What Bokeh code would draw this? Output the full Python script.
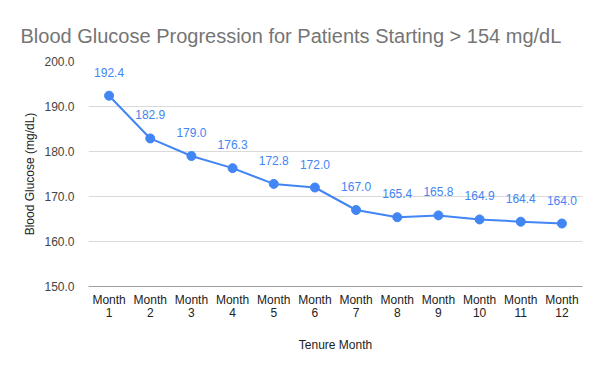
from bokeh.plotting import figure
from bokeh.models import (ColumnDataSource, FactorRange, Range1d, CategoricalAxis,
                          NumeralTickFormatter, FixedTicker, CustomJSTickFormatter)
from bokeh.embed import file_html
from bokeh.resources import INLINE
from bokeh.core.properties import value

months = ["Month 1", "Month 2", "Month 3", "Month 4", "Month 5", "Month 6",
          "Month 7", "Month 8", "Month 9", "Month 10", "Month 11", "Month 12"]
glucose = [192.4, 182.9, 179.0, 176.3, 172.8, 172.0, 167.0, 165.4, 165.8, 164.9, 164.4, 164.0]
labels = ["%.1f" % v for v in glucose]
y_ticks = [150, 160, 170, 180, 190, 200]

BLUE = "#4285F4"
FONT = "Liberation Sans"

src = ColumnDataSource(dict(x=months, y=glucose, lab=labels))

p = figure(width=600, height=371, x_range=FactorRange(*months), y_range=Range1d(150, 200),
           output_backend="svg", toolbar_location=None,
           min_border_left=88, min_border_right=18, min_border_top=61, min_border_bottom=85)
p.outline_line_color = None

p.line("x", "y", source=src, line_color=BLUE, line_width=2)
p.scatter("x", "y", source=src, size=9, fill_color=BLUE, line_color=BLUE)
p.text("x", "y", text="lab", source=src, text_color=BLUE, text_font=value(FONT),
       text_font_size="12px", text_align="center", text_baseline="bottom", y_offset=-19)

p.yaxis.ticker = FixedTicker(ticks=y_ticks)
p.yaxis.formatter = NumeralTickFormatter(format="0.0")
p.yaxis.axis_line_color = None
p.yaxis.major_tick_line_color = None
p.yaxis.minor_tick_line_color = None
p.yaxis.major_label_text_font = FONT
p.yaxis.major_label_text_font_size = "12px"
p.yaxis.major_label_text_color = "#444444"
p.yaxis.major_label_standoff = 8
p.yaxis.axis_label = "Blood Glucose (mg/dL)"
p.yaxis.axis_label_text_font = FONT
p.yaxis.axis_label_text_font_size = "12px"
p.yaxis.axis_label_text_font_style = "normal"
p.yaxis.axis_label_text_color = "#222222"
p.yaxis.axis_label_standoff = 4

xa = p.xaxis[0]
xa.axis_line_color = "#9e9e9e"
xa.major_tick_line_color = None
xa.minor_tick_line_color = None
xa.major_label_text_font = FONT
xa.major_label_text_font_size = "12px"
xa.major_label_text_color = "#222222"
xa.major_label_standoff = 0
xa.formatter = CustomJSTickFormatter(code="return String(tick).split(' ')[0];")

xb = CategoricalAxis()
xb.axis_line_color = None
xb.major_tick_line_color = None
xb.minor_tick_line_color = None
xb.major_label_text_font = FONT
xb.major_label_text_font_size = "12px"
xb.major_label_text_color = "#222222"
xb.major_label_standoff = -8
xb.formatter = CustomJSTickFormatter(code="return String(tick).split(' ')[1];")
xb.axis_label = "Tenure Month"
xb.axis_label_text_font = FONT
xb.axis_label_text_font_size = "12px"
xb.axis_label_text_font_style = "normal"
xb.axis_label_text_color = "#222222"
xb.axis_label_standoff = 18
p.add_layout(xb, "below")

p.xgrid.grid_line_color = None
p.ygrid.grid_line_color = "#d9d9d9"

p.title.text = "Blood Glucose Progression for Patients Starting > 154 mg/dL"
p.title.text_font = FONT
p.title.text_font_size = "20px"
p.title.text_font_style = "normal"
p.title.text_color = "#757575"
p.title.offset = -68
p.title.standoff = 29

open("out.html", "w").write(file_html(p, INLINE))
